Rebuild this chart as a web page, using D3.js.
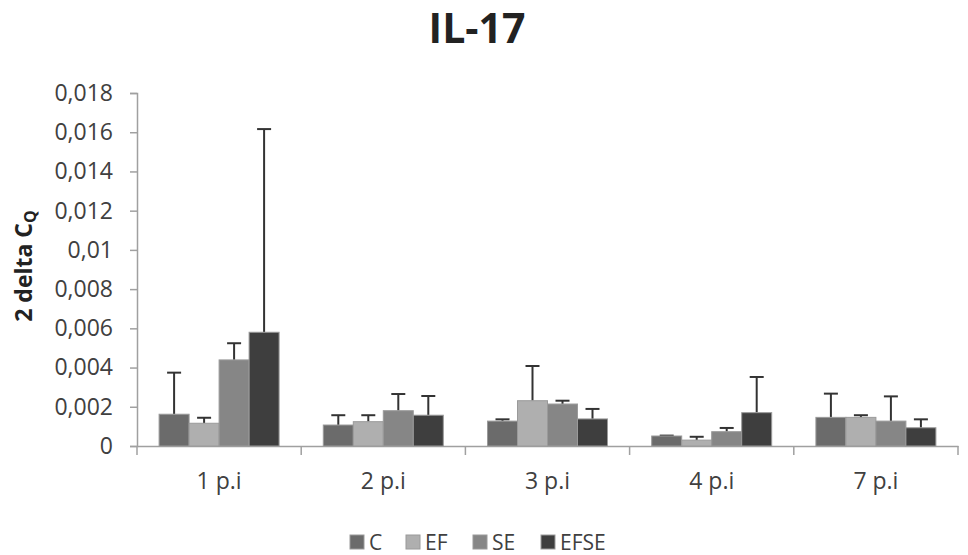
<!DOCTYPE html>
<html><head><meta charset="utf-8">
<script src="https://cdn.jsdelivr.net/npm/d3@7/dist/d3.min.js"></script>
<style>body{margin:0;background:#fff}svg{display:block}</style>
</head><body>
<svg id="chart" width="968" height="555"></svg>
<script>
const categories = ["1 p.i", "2 p.i", "3 p.i", "4 p.i", "7 p.i"];
const seriesNames = ["C", "EF", "SE", "EFSE"];
const valuesC    = [0.00162, 0.00107, 0.00127, 0.00051, 0.00146];
const valuesEF   = [0.00116, 0.00124, 0.00231, 0.00030, 0.00146];
const valuesSE   = [0.00439, 0.00180, 0.00214, 0.00073, 0.00127];
const valuesEFSE = [0.00580, 0.00157, 0.00138, 0.00170, 0.00093];
const errC    = [0.00374, 0.00157, 0.00136, 0.00053, 0.00267];
const errEF   = [0.00144, 0.00157, 0.00408, 0.00047, 0.00157];
const errSE   = [0.00524, 0.00265, 0.00231, 0.00092, 0.00253];
const errEFSE = [0.01616, 0.00255, 0.00189, 0.00352, 0.00136];
const yTicks = [0, 0.002, 0.004, 0.006, 0.008, 0.01, 0.012, 0.014, 0.016, 0.018];
const yTickLabels = ["0", "0,002", "0,004", "0,006", "0,008", "0,01", "0,012", "0,014", "0,016", "0,018"];
const colors = ["#6b6b6b", "#afafaf", "#868686", "#3e3e3e"];

(function () {
const values = [valuesC, valuesEF, valuesSE, valuesEFSE];
const errs = [errC, errEF, errSE, errEFSE];

const svg = d3.select("#chart");
const mLeft = 137, mRight = 958, mTop = 93, mBottom = 446;
const font = "'Open Sans', sans-serif";

const x = d3.scaleBand().domain(categories).range([mLeft, mRight]).paddingInner(0).paddingOuter(0);
const groupInner = 120;
const xs = d3.scaleBand().domain(seriesNames).range([0, groupInner]).padding(0);
const y = d3.scaleLinear().domain([0, 0.018]).range([mBottom, mTop]);

svg.append("text").attr("x", 477).attr("y", 43).attr("text-anchor", "middle")
  .attr("font-family", font).attr("font-weight", "bold").attr("font-size", 41).attr("fill", "#222").text("IL-17");

const yAxis = svg.append("g").attr("transform", `translate(${mLeft},0)`)
  .call(d3.axisLeft(y).tickValues(yTicks).tickFormat((d, i) => yTickLabels[i]).tickSize(7).tickPadding(17));
yAxis.select(".domain").attr("stroke", "#a0a0a0").attr("stroke-width", 1.5);
yAxis.selectAll(".tick line").attr("stroke", "#a0a0a0").attr("stroke-width", 1.5);
yAxis.selectAll(".tick text").attr("font-family", font).attr("font-size", 23).attr("fill", "#404040");

const xAxis = svg.append("g").attr("transform", `translate(0,${mBottom})`)
  .call(d3.axisBottom(x).tickSize(0).tickPadding(27));
xAxis.select(".domain").attr("stroke", "#a0a0a0").attr("stroke-width", 1.5);
xAxis.selectAll(".tick text").attr("font-family", font).attr("font-size", 23).attr("fill", "#404040");
const bounds = categories.map(c => x(c)).concat([mRight]);
svg.append("g").selectAll("line").data(bounds).join("line")
  .attr("x1", d => d).attr("x2", d => d).attr("y1", mBottom).attr("y2", mBottom + 9)
  .attr("stroke", "#a0a0a0").attr("stroke-width", 1.5);

const yt = svg.append("text").attr("transform", `translate(32,${266}) rotate(-90)`)
  .attr("text-anchor", "middle").attr("font-family", font).attr("font-weight", "bold")
  .attr("font-size", 23).attr("fill", "#222");
yt.append("tspan").text("2 delta C");
yt.append("tspan").attr("font-size", 16).attr("dy", 4).text("Q");

const bars = svg.append("g");
seriesNames.forEach((s, si) => {
  categories.forEach((c, ci) => {
    const gx = x(c) + (x.bandwidth() - groupInner) / 2 + xs(s);
    const v = values[si][ci], e = errs[si][ci];
    const cx = gx + xs.bandwidth() / 2;
    bars.append("line").attr("x1", cx).attr("x2", cx).attr("y1", y(v)).attr("y2", y(e))
      .attr("stroke", "#333").attr("stroke-width", 2);
    bars.append("line").attr("x1", cx - 7).attr("x2", cx + 7).attr("y1", y(e)).attr("y2", y(e))
      .attr("stroke", "#333").attr("stroke-width", 2);
    bars.append("rect").attr("x", gx).attr("y", y(v)).attr("width", xs.bandwidth()).attr("height", mBottom - y(v))
      .attr("fill", colors[si]).attr("stroke", "#9a9a9a").attr("stroke-width", 1);
  });
});

const legendX = [350, 406, 473, 541];
const lg = svg.append("g");
seriesNames.forEach((s, i) => {
  lg.append("rect").attr("x", legendX[i]).attr("y", 535).attr("width", 14).attr("height", 14)
    .attr("fill", colors[i]).attr("stroke", "#9a9a9a").attr("stroke-width", 1);
  lg.append("text").attr("x", legendX[i] + 19).attr("y", 550).attr("font-family", font)
    .attr("font-size", 21).attr("fill", "#404040").text(s);
});
})();
</script>
</body></html>
